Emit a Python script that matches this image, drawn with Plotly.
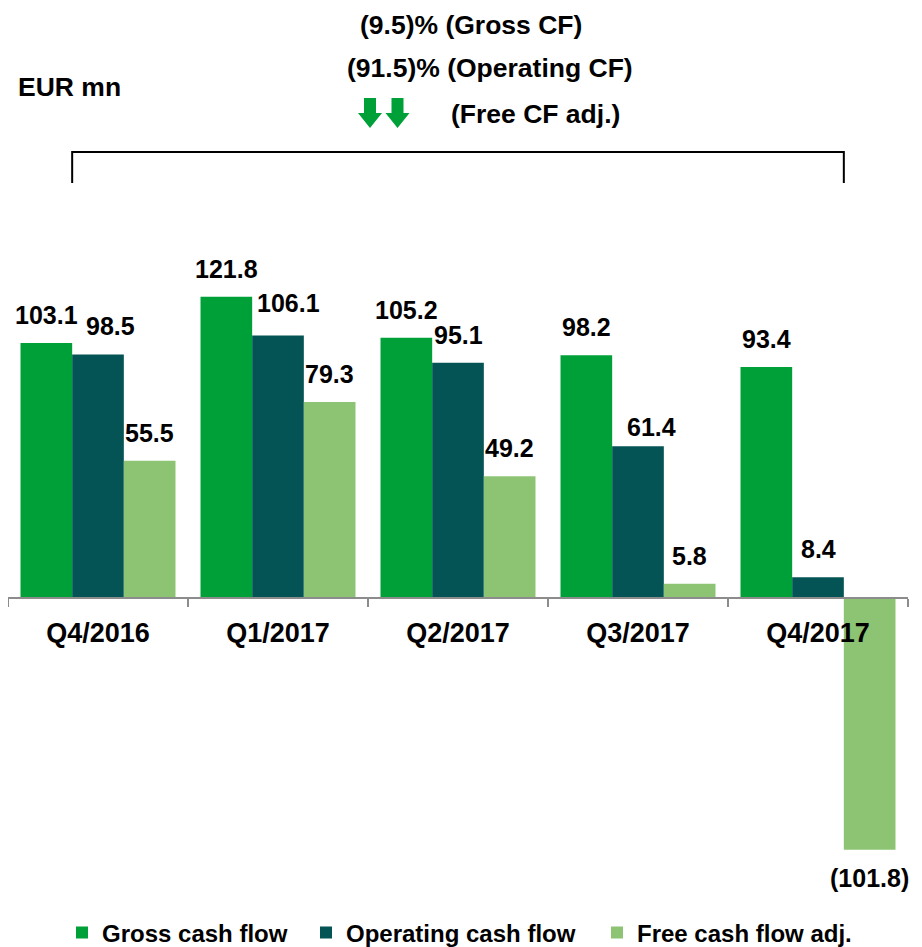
import plotly.graph_objects as go

# ---- data ----
quarters = ["Q4/2016", "Q1/2017", "Q2/2017", "Q3/2017", "Q4/2017"]
gross_cf = [103.1, 121.8, 105.2, 98.2, 93.4]
operating_cf = [98.5, 106.1, 95.1, 61.4, 8.4]
free_cf_adj = [55.5, 79.3, 49.2, 5.8, -101.8]
series_names = ["Gross cash flow", "Operating cash flow", "Free cash flow adj."]
header_lines = ["(9.5)% (Gross CF)", "(91.5)% (Operating CF)", "(Free CF adj.)"]
unit_label = "EUR mn"

# ---- style / layout (pixel targets are page coordinates) ----
colors = ["#00A039", "#045456", "#8CC474"]
FONT = "Liberation Sans, Arial, sans-serif"
OFF = 8                      # default body margin of the html page
W, H = 922 - OFF, 960        # figure size (bottom part runs past the window)
PLOT_L, PLOT_R = 8, 908      # page px
PLOT_T, PLOT_B = 200, 880    # page px
ML, MR = PLOT_L - OFF, W - (PLOT_R - OFF)
MT, MB = PLOT_T - OFF, H - (PLOT_B - OFF)
plot_h = PLOT_B - PLOT_T
plot_w = PLOT_R - PLOT_L
zero_px = 598                # page row of the zero line
px_per_unit = 2.473
ymax = (zero_px - PLOT_T) / px_per_unit
ymin = -(PLOT_B - zero_px) / px_per_unit
bargap = 0.139
bar_w = (1 - bargap) / 3


def fmt(v):
    return f"{v:.1f}" if v >= 0 else f"({abs(v):.1f})"


def py(p):
    return (PLOT_B - p) / plot_h


def px(p):
    return (p - PLOT_L) / plot_w


fig = go.Figure()
all_series = [gross_cf, operating_cf, free_cf_adj]
legend_ids = ["legend", "legend2", "legend3"]
for name, vals, col, lg in zip(series_names, all_series, colors, legend_ids):
    fig.add_trace(go.Bar(
        x=quarters, y=vals, name=name, legend=lg,
        marker=dict(color=col, line=dict(width=0)),
        hoverinfo="skip",
    ))

annotations = []
# label nudges (dx, dy) in pixels, per series index and category index
nudges = {(1, 0): (12, 0), (1, 1): (10, 5), (1, 3): (13, -9)}
for si, vals in enumerate(all_series):
    offset = (si - 1) * bar_w
    for ci, v in enumerate(vals):
        dx, dy = nudges.get((si, ci), (0, 0))
        annotations.append(dict(
            x=ci + offset, y=v, xref="x", yref="y",
            text=f"<b>{fmt(v)}</b>", showarrow=False,
            font=dict(family=FONT, size=25, color="black"),
            xanchor="center",
            yanchor="bottom" if v >= 0 else "top",
            yshift=(12 + dy) if v >= 0 else -12,
            xshift=dx,
        ))

# header texts
header_pos = [(471, 25), (490, 68), (535, 114)]
for txt, (hx, hy) in zip(header_lines, header_pos):
    annotations.append(dict(
        x=px(hx), y=py(hy), xref="paper", yref="paper",
        text=f"<b>{txt}</b>", showarrow=False, xanchor="center", yanchor="middle",
        font=dict(family=FONT, size=26.5, color="black"),
    ))
annotations.append(dict(
    x=px(16), y=py(87), xref="paper", yref="paper",
    text=f"<b>{unit_label}</b>", showarrow=False, xanchor="left", yanchor="middle",
    font=dict(family=FONT, size=26.5, color="black"),
))

shapes = []
# bracket spanning from first to last period
n = len(quarters)
xl = (0 - bar_w / 2 + 0.5) / n
xr = (n - 1 + bar_w / 2 + 0.5) / n
yb, yt = py(183), py(152)
shapes.append(dict(
    type="path", xref="paper", yref="paper",
    path=f"M{xl},{yb} L{xl},{yt} L{xr},{yt} L{xr},{yb}",
    line=dict(color="black", width=2),
))
# two down arrows
arrow_path = "M-6,15 L6,15 L6,0 L12,0 L0,-15 L-12,0 L-6,0 Z"
for ax_px in (370, 397.5):
    shapes.append(dict(
        type="path", xref="paper", yref="paper",
        xsizemode="pixel", ysizemode="pixel",
        xanchor=px(ax_px), yanchor=py(113),
        path=arrow_path, fillcolor=colors[0], line=dict(width=0),
    ))

legend_text_start = [102, 346, 637]
legend_common = dict(
    orientation="h", xanchor="left", yanchor="middle", y=py(933),
    font=dict(family=FONT, size=24, color="black", weight="bold"),
    itemwidth=30, bgcolor="rgba(0,0,0,0)",
)
legends = {}
for lg, ts in zip(legend_ids, legend_text_start):
    legends[lg] = dict(legend_common, x=px(ts - 40))

fig.update_layout(
    width=W, height=H,
    margin=dict(l=ML, r=MR, t=MT, b=MB, autoexpand=False),
    paper_bgcolor="white", plot_bgcolor="white",
    barmode="group", bargap=bargap, bargroupgap=0,
    showlegend=True,
    xaxis=dict(
        type="category", range=[-0.5, n - 0.5],
        anchor="free", position=(0 - ymin) / (ymax - ymin),
        showline=True, linecolor="#8c8c8c", linewidth=2,
        ticks="outside", tickson="boundaries", ticklen=8, tickwidth=2,
        tickcolor="#8c8c8c", ticklabelstandoff=11,
        tickfont=dict(family=FONT, size=27, color="black", weight="bold"),
        showgrid=False, zeroline=False, fixedrange=True,
    ),
    yaxis=dict(
        range=[ymin, ymax], visible=False, showgrid=False, zeroline=False,
        fixedrange=True,
    ),
    annotations=annotations,
    shapes=shapes,
    **legends,
)

fig.write_html("out.html")
